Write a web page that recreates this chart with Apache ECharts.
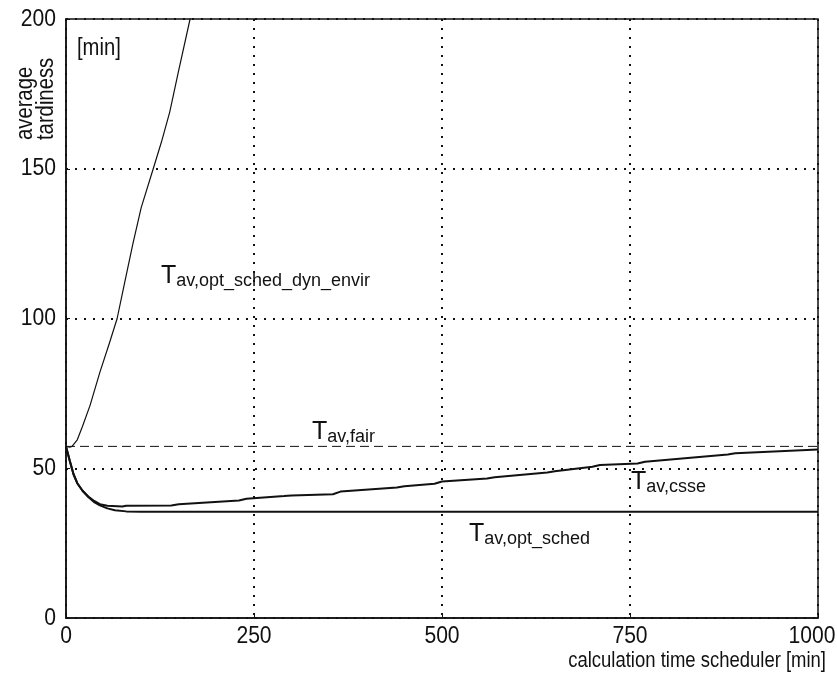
<!DOCTYPE html>
<html>
<head>
<meta charset="utf-8">
<script src="https://cdn.jsdelivr.net/npm/echarts@6/dist/echarts.min.js"></script>
<style>
html,body{margin:0;padding:0;background:#fff;}
#chart{width:837px;height:682px;}
</style>
</head>
<body>
<div id="chart"></div>
<script>
// ---- data ----
var xTicks = [0, 250, 500, 750, 1000];
var yTicks = [0, 50, 100, 150, 200];

var dynX = [0, 5, 8, 15, 22, 32, 45, 58, 68, 78, 89, 100, 116, 127, 138, 150, 165, 175];
var dynY = [57.3, 57, 57.3, 59.5, 64, 71, 82, 92, 100, 112, 125, 137, 150, 159, 169, 183, 200, 213];

var csseX = [0, 5, 10, 15, 22, 30, 38, 45, 55, 75, 80, 140, 150, 230, 240, 290, 300, 355, 365, 440, 450, 490, 500, 560, 570, 640, 650, 700, 710, 760, 770, 880, 890, 1000];
var csseY = [57.3, 52.5, 48, 45, 42.5, 40.5, 39, 38, 37.5, 37.2, 37.5, 37.6, 38, 39.2, 39.8, 40.7, 40.9, 41.3, 42.2, 43.6, 44, 44.8, 45.6, 46.6, 47, 48.6, 49, 50.5, 51.1, 51.6, 52.2, 54.6, 55, 56.3];

var optX = [0, 5, 10, 15, 22, 30, 38, 45, 55, 65, 80, 100, 1000];
var optY = [57.3, 52.5, 48, 45, 42.5, 40.3, 38.6, 37.6, 36.6, 36, 35.6, 35.5, 35.5];

var fairX = [0, 1000];
var fairY = [57.3, 57.3];

function pairs(xs, ys) { return xs.map(function (x, i) { return [x, ys[i]]; }); }

var FONT = '"Liberation Sans", Arial, sans-serif';
var INK = '#111';

function subLabel(main, sub) {
  return {
    text: '{T|' + main + '}{s|' + sub + '}',
    rich: {
      T: { fontSize: 25, fontFamily: FONT, fill: INK, color: INK },
      s: { fontSize: 18, fontFamily: FONT, fill: INK, color: INK, padding: [10, 0, 0, 0] }
    },
    fill: INK
  };
}

var chart = echarts.init(document.getElementById('chart'), null, { renderer: 'canvas' });
var option = {
  animation: false,
  backgroundColor: '#fff',
  grid: { left: 66, right: 19, top: 19, bottom: 64, show: true, borderColor: INK, borderWidth: 1.5,
    outerBoundsMode: 'none', containLabel: false },
  xAxis: {
    type: 'value', min: 0, max: 1000, interval: 250,
    axisLine: { show: true, onZero: false, lineStyle: { color: INK, width: 1.5 } },
    axisTick: { show: true, inside: true, length: 4, lineStyle: { color: INK } },
    axisLabel: { show: false },
    splitLine: { show: true, lineStyle: { color: INK, width: 2, type: [2, 7] } }
  },
  yAxis: {
    type: 'value', min: 0, max: 200, interval: 50,
    axisLine: { show: true, lineStyle: { color: INK, width: 1.5 } },
    axisTick: { show: true, inside: true, length: 4, lineStyle: { color: INK } },
    axisLabel: { show: false },
    splitLine: { show: true, lineStyle: { color: INK, width: 2, type: [2, 7] } }
  },
  series: [
    { name: 'fair', type: 'line', data: pairs(fairX, fairY), showSymbol: false, symbol: 'none',
      lineStyle: { color: INK, width: 1, type: [9, 5] }, z: 3 },
    { name: 'dyn', type: 'line', data: pairs(dynX, dynY), showSymbol: false, symbol: 'none', clip: true,
      lineStyle: { color: INK, width: 1.2 }, z: 4 },
    { name: 'csse', type: 'line', data: pairs(csseX, csseY), showSymbol: false, symbol: 'none',
      lineStyle: { color: INK, width: 2 }, z: 4 },
    { name: 'opt', type: 'line', data: pairs(optX, optY), showSymbol: false, symbol: 'none',
      lineStyle: { color: INK, width: 2 }, z: 4 }
  ]
};
chart.setOption(option);

// tick labels and texts (narrow look via horizontal scaling), placed through the axes' scales
var NARROW = 0.88;
var graphics = [];
var gridBottom = chart.convertToPixel({ yAxisIndex: 0 }, 0);
xTicks.forEach(function (v, i) {
  var px = chart.convertToPixel({ xAxisIndex: 0 }, v);
  if (i === xTicks.length - 1) px -= 6;
  graphics.push({ type: 'text', id: 'xt' + i, x: px, y: gridBottom + 18, scaleX: NARROW,
    style: { text: String(v), fontSize: 24, fontFamily: FONT, fill: INK, align: 'center', verticalAlign: 'middle' } });
});
var gridLeft = chart.convertToPixel({ xAxisIndex: 0 }, 0);
yTicks.forEach(function (v, i) {
  var py = chart.convertToPixel({ yAxisIndex: 0 }, v);
  graphics.push({ type: 'text', id: 'yt' + i, x: gridLeft - 10, y: py, scaleX: NARROW,
    style: { text: String(v), fontSize: 24, fontFamily: FONT, fill: INK, align: 'right', verticalAlign: 'middle' } });
});
graphics.push(
  { type: 'text', id: 'unit', x: 77, y: 49, scaleX: NARROW,
    style: { text: '[min]', fontSize: 23, fontFamily: FONT, fill: INK, align: 'left', verticalAlign: 'middle' } },
  { type: 'text', id: 'ytitle', x: 36, y: 140, rotation: Math.PI / 2, scaleX: NARROW,
    style: { text: 'average\ntardiness', fontSize: 23, fontFamily: FONT, fill: INK, lineHeight: 21,
      align: 'left', verticalAlign: 'middle' } },
  { type: 'text', id: 'xtitle', x: 826, y: 661, scaleX: 0.84,
    style: { text: 'calculation time scheduler [min]', fontSize: 22, fontFamily: FONT, fill: INK,
      align: 'right', verticalAlign: 'middle' } },
  { type: 'text', id: 'l1', left: 161, top: 264, style: subLabel('T', 'av,opt_sched_dyn_envir') },
  { type: 'text', id: 'l2', left: 312, top: 420, style: subLabel('T', 'av,fair') },
  { type: 'text', id: 'l3', left: 631, top: 470, style: subLabel('T', 'av,csse') },
  { type: 'text', id: 'l4', left: 469, top: 522, style: subLabel('T', 'av,opt_sched') }
);
chart.setOption({ graphic: graphics });
</script>
</body>
</html>
